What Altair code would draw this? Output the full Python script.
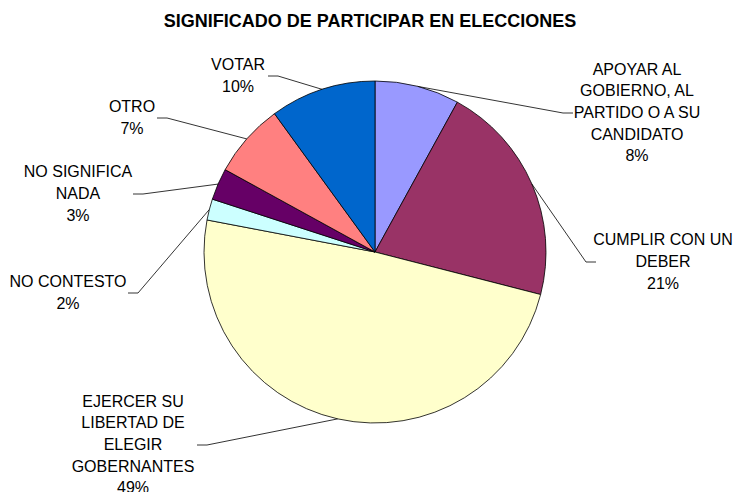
import altair as alt
import pandas as pd

# ---- data ----
categories = [
    "APOYAR AL GOBIERNO, AL PARTIDO O A SU CANDIDATO",
    "CUMPLIR CON UN DEBER",
    "EJERCER SU LIBERTAD DE ELEGIR GOBERNANTES",
    "NO CONTESTO",
    "NO SIGNIFICA NADA",
    "OTRO",
    "VOTAR",
]
label_lines = [
    "APOYAR AL\nGOBIERNO, AL\nPARTIDO O A SU\nCANDIDATO",
    "CUMPLIR CON UN\nDEBER",
    "EJERCER SU\nLIBERTAD DE\nELEGIR\nGOBERNANTES",
    "NO CONTESTO",
    "NO SIGNIFICA\nNADA",
    "OTRO",
    "VOTAR",
]
percentages = [8, 21, 49, 2, 3, 7, 10]
title_text = "SIGNIFICADO DE PARTICIPAR EN ELECCIONES"

# ---- styles / layout ----
colors = ["#9999FF", "#993366", "#FFFFCC", "#CCFFFF", "#660066", "#FF8080", "#0066CC"]
W, H = 725, 484
CX, CY, R = 367, 244, 171
LH = 21.6
# label anchors (end of leader line next to the text) and text centres
anchor_x = [565, 588, 189, 120, 125, 149, 260]
anchor_y = [105, 254, 437, 285, 186, 110, 68]
text_x = [629, 655, 125, 60, 70, 124, 230]

df = pd.DataFrame({
    "cat": categories,
    "label": label_lines,
    "value": percentages,
    "order": list(range(len(categories))),
    "ax": anchor_x,
    "ay": anchor_y,
    "tx": text_x,
})

FONT = "Liberation Sans"
xs = alt.Scale(domain=[0, W], nice=False, zero=False)
ys = alt.Scale(domain=[0, H], nice=False, zero=False, reverse=True)

base = alt.Chart(df).transform_window(
    cum="sum(value)", sort=[alt.SortField("order")], frame=[None, 0]
).transform_joinaggregate(
    total="sum(value)"
).transform_calculate(
    mid="(datum.cum - datum.value/2) / datum.total * 2 * PI",
    txt="datum.label + '\\n' + datum.value + '%'",
).transform_calculate(
    ex=f"{CX} + {R} * sin(datum.mid)",
    ey=f"{CY} - {R} * cos(datum.mid)",
    elx="datum.tx > datum.ax ? datum.ax - 10 : datum.ax + 10",
    ty=f"datum.ay - (split(datum.txt, '\\n').length - 1) * {LH} / 2",
)

pie = base.mark_arc(radius=R, stroke="black", strokeWidth=0.8).encode(
    theta=alt.Theta("value:Q", stack=True),
    order=alt.Order("order:Q"),
    color=alt.Color("cat:N", scale=alt.Scale(domain=categories, range=colors), legend=None),
    x=alt.value(CX),
    y=alt.value(CY),
)

diag = base.mark_rule(color="black", strokeWidth=0.8).encode(
    x=alt.X("ex:Q", scale=xs, axis=None),
    y=alt.Y("ey:Q", scale=ys, axis=None),
    x2="elx:Q",
    y2="ay:Q",
)

horiz = base.mark_rule(color="black", strokeWidth=0.8).encode(
    x=alt.X("elx:Q", scale=xs, axis=None),
    x2="ax:Q",
    y=alt.Y("ay:Q", scale=ys, axis=None),
)

labels = base.mark_text(
    font=FONT, fontSize=16, lineBreak="\n", lineHeight=LH,
    align="center", baseline="middle", color="black",
).encode(
    x=alt.X("tx:Q", scale=xs, axis=None),
    y=alt.Y("ty:Q", scale=ys, axis=None),
    text="txt:N",
)

title = alt.Chart(pd.DataFrame({"t": [title_text]})).mark_text(
    font=FONT, fontSize=18, fontWeight="bold", align="center", baseline="middle", color="black",
).encode(
    x=alt.value(362), y=alt.value(14), text="t:N"
)

chart = alt.layer(pie, diag, horiz, labels, title).properties(
    width=W, height=H,
    autosize=alt.AutoSizeParams(type="none"),
    padding=0,
    background="white",
).configure_view(stroke=None)

chart.save("out.html", embed_options={"renderer": "svg", "actions": False})
